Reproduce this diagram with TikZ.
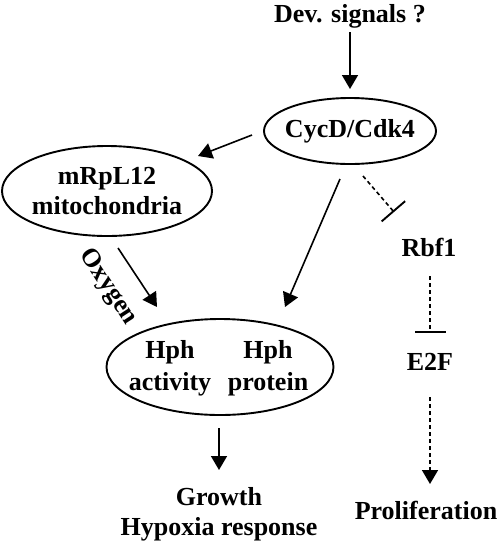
\documentclass[tikz,border=0pt]{standalone}
\usepackage{fontspec}
\setmainfont{Liberation Serif}
\usetikzlibrary{arrows.meta,shapes.geometric,calc}
\begin{document}
\begin{tikzpicture}[x=1pt,y=-1pt,
  txt/.style={font=\fontsize{26}{30}\selectfont\bfseries, align=center, inner sep=0},
  oval/.style={draw, ellipse, line width=1.9pt, inner sep=0},
  arr/.style={line width=1.6pt, -{Triangle[length=14pt,width=16pt]}},
  darr/.style={arr, dash pattern=on 4pt off 3pt},
  inh/.style={line width=1.6pt, dash pattern=on 4pt off 3pt, -{Bar[width=31pt,line width=1.9pt]}}]
\useasboundingbox (0,0) rectangle (499,542);
% nodes
\node[txt] (dev) at (350,16) {Dev. signals ?};
\node[oval, minimum width=172pt, minimum height=66pt] (cycd) at (350,131) {};
\node[txt] (cycdt) at (350,131) {CycD/Cdk4};
\node[oval, minimum width=210pt, minimum height=90pt] (mrp) at (107,191) {};
\node[txt] (mrpt) at (107,191) {mRpL12\\mitochondria};
\node[oval, minimum width=227pt, minimum height=96pt] (hph) at (220,367) {};
\node[txt, font=\fontsize{26}{32}\selectfont\bfseries] (hphl) at (170,368) {Hph\\activity};
\node[txt, font=\fontsize{26}{32}\selectfont\bfseries] (hphr) at (268,368) {Hph\\protein};
\node[txt, rotate=-57] (oxy) at (108,287) {Oxygen};
\node[txt] (rbf) at (429,247) {Rbf1};
\node[txt] (e2f) at (430,362) {E2F};
\node[txt] (prol) at (426,510) {Proliferation};
\node[txt] (grow) at (219,514) {Growth\\Hypoxia response};
% connectors
\draw[arr] ($(dev)+(0,16)$) -- ($(cycd)+(0,-42)$);
\draw[arr] ($(cycd)+(-98,4)$) -- ($(mrp)+(91,-35)$);
\draw[arr] ($(mrp)+(11,57)$) -- ($(hph)+(-63,-60)$);
\draw[arr] ($(cycd)+(-10,48)$) -- ($(hph)+(65,-60)$);
\draw[inh] ($(cycd)+(13,45)$) -- ($(rbf)+(-35,-35)$);
\draw[inh] ($(rbf)+(1,29)$) -- ($(e2f)+(0,-29)$);
\draw[darr] ($(e2f)+(0,35)$) -- ($(prol)+(4,-26)$);
\draw[arr] ($(hph)+(-1,61)$) -- ($(grow)+(0,-44)$);
\end{tikzpicture}
\end{document}
